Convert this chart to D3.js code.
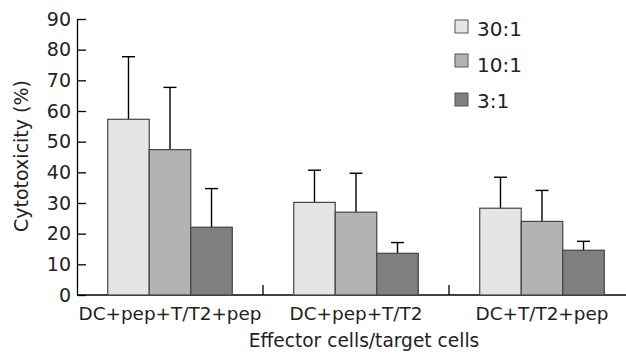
<!DOCTYPE html>
<html>
<head>
<meta charset="utf-8">
<script src="https://cdn.jsdelivr.net/npm/d3@7"></script>
<style>
  body { margin: 0; background: #fff; }
  text { font-family: "DejaVu Sans", sans-serif; fill: #222; }
</style>
</head>
<body>
<div id="chart"></div>
<script>
// data
const categories = ["DC+pep+T/T2+pep", "DC+pep+T/T2", "DC+T/T2+pep"];
const ratios = ["30:1", "10:1", "3:1"];
const means = [
    [57.3, 47.4, 22.1],
    [30.2, 27.0, 13.6],
    [28.3, 24.0, 14.6]
];
const errTops = [
    [77.7, 67.7, 34.7],
    [40.7, 39.7, 17.1],
    [38.4, 34.1, 17.5]
];
const yTicks = [0, 10, 20, 30, 40, 50, 60, 70, 80, 90];
const fills = ["#e5e5e5", "#b3b3b3", "#7f7f7f"];

const width = 626, height = 354;
const x0Left = 77, step = 186, y0 = 295, yTop = 19;

const svg = d3.select("#chart").append("svg")
    .attr("width", width)
    .attr("height", height);

const x0 = d3.scaleBand()
    .domain(categories)
    .range([x0Left, x0Left + step * categories.length])
    .paddingInner(0)
    .paddingOuter(0);

const x1 = d3.scaleBand()
    .domain(ratios)
    .range([0, x0.bandwidth()])
    .paddingInner(0)
    .paddingOuter(0.74);

const y = d3.scaleLinear()
    .domain([0, 90])
    .range([y0, yTop]);

// y axis, ticks pointing inward
const yAxis = svg.append("g")
    .attr("transform", `translate(${x0Left},0)`)
    .call(d3.axisLeft(y).tickValues(yTicks).tickSizeInner(-9).tickSizeOuter(0).tickPadding(6));
yAxis.select(".domain").attr("stroke", "#000").attr("stroke-width", 1.3);
yAxis.selectAll(".tick line").attr("stroke", "#000").attr("stroke-width", 1.3);
yAxis.selectAll(".tick text")
    .attr("x", -6)
    .style("font-size", "19px")
    .style("font-family", "DejaVu Sans")
    .attr("fill", "#222");

// x axis baseline + group separators
svg.append("line")
    .attr("x1", x0Left).attr("x2", width)
    .attr("y1", y0).attr("y2", y0)
    .attr("stroke", "#000").attr("stroke-width", 1.3);

svg.selectAll("line.sep")
    .data(categories.slice(1))
    .join("line")
    .attr("class", "sep")
    .attr("x1", d => x0(d)).attr("x2", d => x0(d))
    .attr("y1", y0).attr("y2", y0 - 10)
    .attr("stroke", "#000").attr("stroke-width", 1.3);

// bars
const groups = svg.selectAll("g.group")
    .data(categories)
    .join("g")
    .attr("class", "group")
    .attr("transform", d => `translate(${x0(d)},0)`);

groups.each(function(cat, ci) {
    const g = d3.select(this);
    ratios.forEach((r, ri) => {
        const cx = x1(r) + x1.bandwidth() / 2;
        // error bar (upper only)
        g.append("line")
            .attr("x1", cx).attr("x2", cx)
            .attr("y1", y(means[ci][ri])).attr("y2", y(errTops[ci][ri]))
            .attr("stroke", "#000").attr("stroke-width", 1.4);
        g.append("line")
            .attr("x1", cx - 6.5).attr("x2", cx + 6.5)
            .attr("y1", y(errTops[ci][ri])).attr("y2", y(errTops[ci][ri]))
            .attr("stroke", "#000").attr("stroke-width", 1.4);
        g.append("rect")
            .attr("x", x1(r))
            .attr("y", y(means[ci][ri]))
            .attr("width", x1.bandwidth())
            .attr("height", y(0) - y(means[ci][ri]))
            .attr("fill", fills[ri])
            .attr("stroke", "#444")
            .attr("stroke-width", 1.2);
    });
});

// category labels
svg.selectAll("text.cat")
    .data(categories)
    .join("text")
    .attr("class", "cat")
    .attr("x", d => x0(d) + x0.bandwidth() / 2)
    .attr("y", 320)
    .attr("text-anchor", "middle")
    .style("font-size", "18.4px")
    .text(d => d);

// axis titles
svg.append("text")
    .attr("x", 364)
    .attr("y", 347)
    .attr("text-anchor", "middle")
    .style("font-size", "18.6px")
    .text("Effector cells/target cells");

svg.append("text")
    .attr("transform", "translate(28,156) rotate(-90)")
    .attr("text-anchor", "middle")
    .style("font-size", "19px")
    .text("Cytotoxicity (%)");

// legend
const legendY = [20, 54, 93];
const legend = svg.selectAll("g.legend")
    .data(ratios)
    .join("g")
    .attr("class", "legend")
    .attr("transform", (d, i) => `translate(455,${legendY[i]})`);

legend.append("rect")
    .attr("width", 13).attr("height", 13)
    .attr("fill", (d, i) => fills[i])
    .attr("stroke", "#555")
    .attr("stroke-width", 1);

legend.append("text")
    .attr("x", 22)
    .attr("y", (d, i) => [16, 18, 15][i])
    .style("font-size", "20px")
    .text(d => d);
</script>
</body>
</html>
